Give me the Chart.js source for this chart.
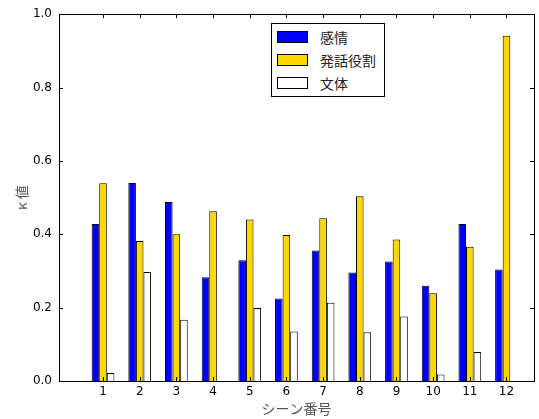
<!DOCTYPE html>
<html>
<head>
<meta charset="utf-8">
<script src="https://cdn.jsdelivr.net/npm/chart.js@4.4.1/dist/chart.umd.min.js"></script>
<style>
  body { margin: 0; background: #fff; }
  #wrap { position: relative; width: 539px; height: 419px; }
  #legend {
    position: absolute; left: 271px; top: 23px; width: 112px; height: 72px;
    border: 1px solid #000; background: #fff;
    font-family: "Noto Sans CJK JP", "DejaVu Sans", sans-serif; font-size: 14px; color: #222;
  }
  .row { position: absolute; left: 5px; height: 20px; line-height: 20px; }
  .sw { position: absolute; left: 0; top: 4px; width: 29px; height: 10px; border: 1px solid #000; }
  .lb { position: absolute; left: 43px; top: 0; white-space: nowrap; }
</style>
</head>
<body>
<div id="wrap">
  <canvas id="kappaChart" width="539" height="419"></canvas>
  <div id="legend"></div>
</div>
<script>
var scenes = [1, 2, 3, 4, 5, 6, 7, 8, 9, 10, 11, 12];
var seriesNames = ["感情", "発話役割", "文体"];
var emotion = [0.428, 0.540, 0.488, 0.283, 0.329, 0.225, 0.356, 0.296, 0.326, 0.260, 0.428, 0.304];
var speechRole = [0.539, 0.382, 0.400, 0.463, 0.440, 0.398, 0.444, 0.504, 0.386, 0.239, 0.366, 0.941];
var style = [0.022, 0.297, 0.167, 0.0, 0.199, 0.135, 0.213, 0.133, 0.176, 0.018, 0.079, 0.0];
var yTicks = [0, 0.2, 0.4, 0.6, 0.8, 1.0];
var colors = ["#0000ff", "#ffd700", "#ffffff"];

function points(vals) {
  return scenes.map(function (s, i) { return { x: s, y: vals[i] }; });
}

var frameTicks = {
  id: "frameTicks",
  afterDraw: function (chart) {
    var ctx = chart.ctx, a = chart.chartArea;
    var xs = chart.scales.x, ys = chart.scales.y;
    ctx.save();
    ctx.strokeStyle = "#000";
    ctx.lineWidth = 1;
    ctx.strokeRect(Math.round(a.left) + 0.5, Math.round(a.top) + 0.5,
      Math.round(a.right - a.left), Math.round(a.bottom - a.top));
    ctx.beginPath();
    scenes.forEach(function (s) {
      var px = Math.round(xs.getPixelForValue(s)) + 0.5;
      ctx.moveTo(px, a.bottom); ctx.lineTo(px, a.bottom - 4);
      ctx.moveTo(px, a.top); ctx.lineTo(px, a.top + 4);
    });
    yTicks.forEach(function (v) {
      var py = Math.round(ys.getPixelForValue(v)) + 0.5;
      ctx.moveTo(a.left, py); ctx.lineTo(a.left + 4, py);
      ctx.moveTo(a.right, py); ctx.lineTo(a.right - 4, py);
    });
    ctx.stroke();
    ctx.restore();
  }
};

var datasets = [emotion, speechRole, style].map(function (vals, i) {
  return {
    label: seriesNames[i],
    data: points(vals),
    backgroundColor: colors[i],
    borderColor: "#000",
    borderWidth: 1,
    categoryPercentage: 0.62,
    barPercentage: 1.0
  };
});

var chart = new Chart(document.getElementById("kappaChart"), {
  type: "bar",
  data: { datasets: datasets },
  plugins: [frameTicks],
  options: {
    responsive: false,
    animation: false,
    layout: { padding: { top: 10, right: 5, left: 0, bottom: 0 } },
    plugins: { legend: { display: false }, tooltip: { enabled: false } },
    scales: {
      x: {
        type: "linear",
        offset: false,
        min: -0.2,
        max: 12.75,
        grid: { display: false, drawTicks: false },
        border: { display: false },
        afterBuildTicks: function (scale) {
          scale.ticks = scenes.map(function (s) { return { value: s }; });
        },
        afterFit: function (scale) { scale.height = 38; },
        ticks: {
          padding: 4,
          color: "#000",
          font: { family: "DejaVu Sans", size: 12 },
          callback: function (v) { return String(v); }
        },
        title: {
          display: true,
          text: "シーン番号",
          color: "#555",
          padding: { top: 0, bottom: 2 },
          font: { family: "Noto Sans CJK JP", size: 14 }
        }
      },
      y: {
        min: 0,
        max: 1,
        grid: { display: false, drawTicks: false },
        border: { display: false },
        afterBuildTicks: function (scale) {
          scale.ticks = yTicks.map(function (v) { return { value: v }; });
        },
        afterFit: function (scale) { scale.width = 59; },
        ticks: {
          padding: 7,
          color: "#000",
          font: { family: "DejaVu Sans", size: 12 },
          callback: function (v) { return Number(v).toFixed(1); }
        },
        title: {
          display: true,
          text: "κ 値",
          color: "#555",
          padding: { top: 13, bottom: 0 },
          font: { family: "Noto Sans CJK JP", size: 14 }
        }
      }
    }
  }
});

var legendEl = document.getElementById("legend");
seriesNames.forEach(function (name, i) {
  var row = document.createElement("div");
  row.className = "row";
  row.style.top = (3 + i * 23) + "px";
  var sw = document.createElement("span");
  sw.className = "sw";
  sw.style.background = colors[i];
  var lb = document.createElement("span");
  lb.className = "lb";
  lb.textContent = name;
  row.appendChild(sw);
  row.appendChild(lb);
  legendEl.appendChild(row);
});
</script>
</body>
</html>
